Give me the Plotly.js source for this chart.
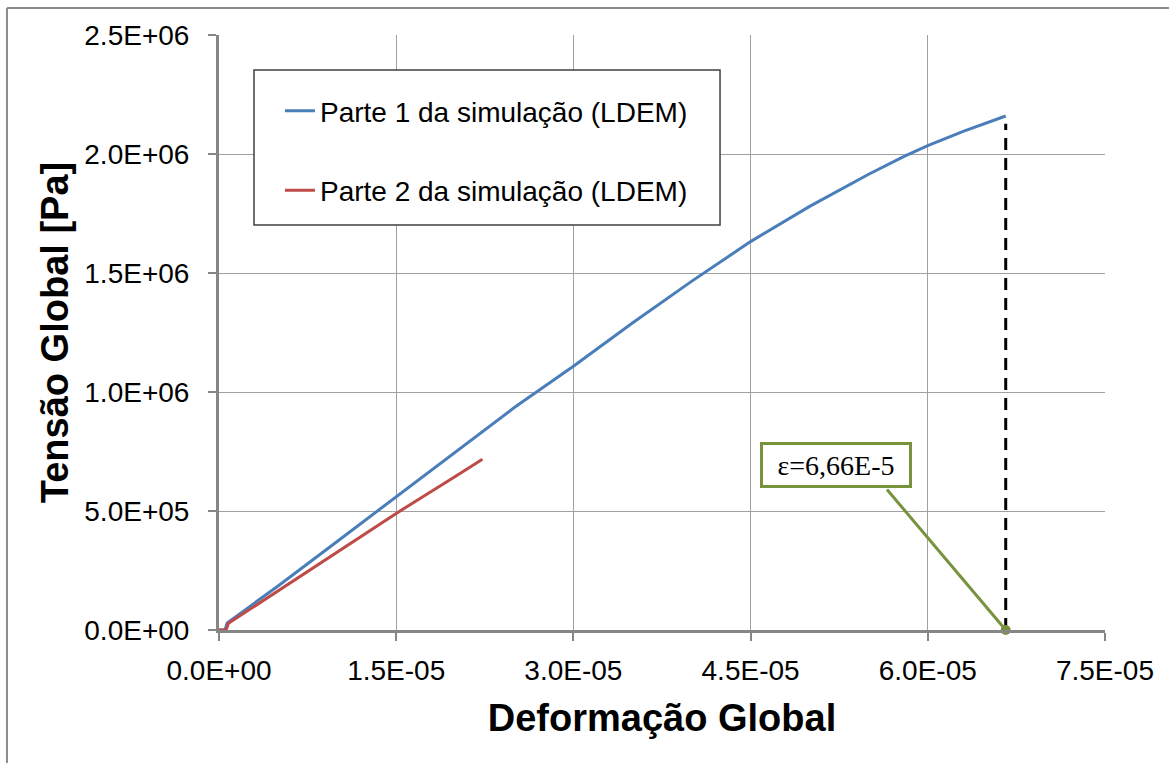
<!DOCTYPE html>
<html>
<head>
<meta charset="utf-8">
<script src="https://cdn.plot.ly/plotly-3.0.1.min.js"></script>
<style>html,body{margin:0;padding:0;background:#fff;}#chart{width:1169px;height:763px;}</style>
</head>
<body>
<div id="chart"></div>
<script>
// Part 1 (blue) : strain (1e-5 units) and stress (1e6 Pa units)
const part1Strain = [0, 0.05, 0.07, 0.5, 1.0, 1.5, 2.0, 2.5, 3.0, 3.5, 4.0, 4.5, 5.0, 5.5, 5.8, 6.0, 6.3, 6.66];
const part1Stress = [0, 0, 0.03, 0.185, 0.372, 0.56, 0.75, 0.935, 1.108, 1.29, 1.465, 1.632, 1.78, 1.915, 1.99, 2.035, 2.095, 2.16];
// Part 2 (red)
const part2Strain = [0, 0.06, 0.08, 0.5, 1.0, 1.5, 2.0, 2.23];
const part2Stress = [0, 0, 0.028, 0.165, 0.33, 0.49, 0.645, 0.718];
// failure strain
const failStrain = 6.66e-5;
const failLabel = "ε=6,66E-5";
const seriesNames = ["Parte 1 da simulação (LDEM)", "Parte 2 da simulação (LDEM)"];
const xTickVals = [0, 1.5e-5, 3.0e-5, 4.5e-5, 6.0e-5, 7.5e-5];
const xTickText = ["0.0E+00", "1.5E-05", "3.0E-05", "4.5E-05", "6.0E-05", "7.5E-05"];
const yTickVals = [0, 5e5, 1e6, 1.5e6, 2e6, 2.5e6];
const yTickText = ["0.0E+00", "5.0E+05", "1.0E+06", "1.5E+06", "2.0E+06", "2.5E+06"];

const sx = v => v * 1e-5;
const sy = v => v * 1e6;

const peakStress = sy(part1Stress[part1Stress.length - 1]);

const traces = [
  {x: part1Strain.map(sx), y: part1Stress.map(sy), name: seriesNames[0], mode: 'lines',
   line: {color: '#4A7EBB', width: 3}, legendgroup: 'a'},
  {x: part2Strain.map(sx), y: part2Stress.map(sy), name: seriesNames[1], mode: 'lines',
   line: {color: '#BE4B48', width: 3}, legendgroup: 'b'},
  {x: [failStrain, failStrain], y: [0, peakStress * 0.985], mode: 'lines', showlegend: false,
   line: {color: '#000', width: 3, dash: '12px,8px'}},
  {x: [failStrain], y: [0], mode: 'markers', showlegend: false, cliponaxis: false,
   marker: {color: '#77933C', size: 10}}
];

const F = 'Liberation Sans, Arial, sans-serif';
const layout = {
  width: 1169, height: 763,
  margin: {l: 219, r: 64, t: 35, b: 133},
  paper_bgcolor: '#fff', plot_bgcolor: '#fff',
  font: {family: F, color: '#000'},
  showlegend: true,
  legend: {x: 0.0688, y: 0.914, xanchor: 'left', yanchor: 'top', bgcolor: 'rgba(0,0,0,0)',
           borderwidth: 0, font: {family: F, size: 28, color: '#000'}, tracegroupgap: 40,
           itemwidth: 30},
  xaxis: {range: [0, 7.5005e-5], tickvals: xTickVals, ticktext: xTickText,
          tickfont: {family: F, size: 28, color: '#000'},
          showgrid: true, gridcolor: '#A0A0A0', gridwidth: 1,
          showline: true, linecolor: '#868686', linewidth: 3,
          ticks: 'outside', ticklen: 8, tickwidth: 2, tickcolor: '#868686',
          ticklabelstandoff: 5, zeroline: false,
          title: {text: 'Deformação Global', font: {family: F, size: 38, color: '#000', weight: 'bold'}, standoff: 20}},
  yaxis: {range: [0, 2.5003e6], tickvals: yTickVals, ticktext: yTickText,
          tickfont: {family: F, size: 28, color: '#000'},
          showgrid: true, gridcolor: '#A0A0A0', gridwidth: 1,
          showline: true, linecolor: '#868686', linewidth: 3,
          ticks: 'outside', ticklen: 8, tickwidth: 2, tickcolor: '#868686',
          ticklabelstandoff: 13, zeroline: false,
          title: {text: 'Tensão Global [Pa]', font: {family: F, size: 38, color: '#000', weight: 'bold'}, standoff: 4}},
  shapes: [
    // legend frame
    {type: 'rect', xref: 'paper', yref: 'paper', x0: 0.0395, x1: 0.5655, y0: 0.6807, y1: 0.941,
     fillcolor: '#fff', line: {color: '#404040', width: 1.5}, layer: 'above'},
    // outer frame (top and left edges)
    {type: 'line', xref: 'paper', yref: 'paper', x0: -0.2393, x1: 1.1, y0: 1.0454, y1: 1.0454,
     line: {color: '#8C8C8C', width: 2}},
    {type: 'line', xref: 'paper', yref: 'paper', x0: -0.2393, x1: -0.2393, y0: -0.25, y1: 1.0454,
     line: {color: '#8C8C8C', width: 2}}
  ],
  annotations: [
    // leader line
    {x: failStrain, y: 0, xref: 'x', yref: 'y', text: '', showarrow: true,
     arrowhead: 0, arrowwidth: 3, arrowcolor: '#77933C', ax: -120, ay: -142},
    // label box
    {x: failStrain, y: 0, xref: 'x', yref: 'y', text: failLabel, showarrow: false,
     xshift: -170, yshift: 165,
     font: {family: 'Liberation Serif, Times New Roman, serif', size: 28, color: '#000'},
     bgcolor: '#fff', bordercolor: '#77933C', borderwidth: 3, borderpad: 3,
     width: 140, height: 34}
  ]
};

Plotly.newPlot('chart', traces, layout, {displayModeBar: false, staticPlot: true});
</script>
</body>
</html>
